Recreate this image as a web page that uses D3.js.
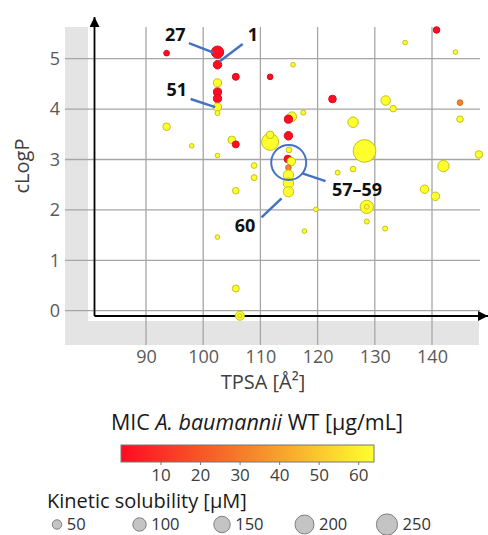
<!DOCTYPE html>
<html>
<head>
<meta charset="utf-8">
<script src="https://cdn.jsdelivr.net/npm/d3@7"></script>
<style>
  body { margin: 0; background: #fff; }
  svg { display: block; font-family: "Open Sans", sans-serif; }
</style>
</head>
<body>
<div id="chart"></div>
<script>
// compounds: TPSA, cLogP, MIC (ug/mL) and kinetic solubility (uM)
var tpsa = [93.6, 102.5, 102.5, 105.7, 111.7, 102.5, 102.5, 102.5, 102.5, 102.5,
  93.6, 98.0, 105.0, 105.7, 102.5, 111.7, 111.7, 108.9, 108.9, 105.7,
  102.5, 105.7, 106.4, 106.4, 140.8, 135.3, 144.1, 115.7, 122.6, 131.9,
  133.2, 144.9, 115.5, 114.9, 117.5, 126.2, 144.9, 114.9, 128.2, 148.2,
  115.0, 114.8, 115.4, 114.9, 114.9, 114.9, 114.9, 142.0, 123.5, 126.2,
  138.7, 140.6, 128.6, 128.6, 119.7, 128.6, 131.8, 117.7];
var clogp = [5.11, 5.13, 4.88, 4.64, 4.64, 4.52, 4.34, 4.21, 4.04, 3.92,
  3.65, 3.27, 3.39, 3.30, 3.08, 3.35, 3.49, 2.88, 2.64, 2.38,
  1.46, 0.44, -0.10, -0.10, 5.57, 5.32, 5.13, 4.88, 4.20, 4.17,
  4.01, 4.13, 3.85, 3.80, 3.93, 3.74, 3.80, 3.47, 3.17, 3.10,
  3.19, 3.01, 2.96, 2.84, 2.69, 2.53, 2.36, 2.87, 2.74, 2.81,
  2.41, 2.27, 2.06, 2.06, 2.01, 1.77, 1.63, 1.58];
var mic = [1, 1, 1, 1, 1, 64, 1, 1, 64, 64,
  64, 64, 64, 1, 64, 64, 64, 64, 64, 64,
  64, 64, 64, 64, 1, 64, 64, 64, 1, 64,
  64, 32, 64, 1, 64, 64, 64, 1, 64, 64,
  64, 1, 64, 32, 64, 64, 64, 64, 64, 64,
  64, 64, 64, 64, 64, 64, 64, 64];
var solubility = [18, 84, 40, 27, 18, 37, 37, 37, 37, 14,
  32, 12, 32, 27, 12, 161, 32, 18, 20, 24,
  12, 27, 45, 10, 24, 12, 12, 12, 32, 50,
  24, 18, 50, 37, 14, 60, 24, 40, 287, 32,
  18, 32, 40, 18, 60, 60, 60, 72, 14, 18,
  40, 40, 98, 12, 12, 14, 14, 12];

var xTicks = [90, 100, 110, 120, 130, 140];
var yTicks = [0, 1, 2, 3, 4, 5];
var micTicks = [10, 20, 30, 40, 50, 60];
var solLegend = [50, 100, 150, 200, 250];

// labelled compounds
var labels = [
  { text: "27", x: 95.1, y: 5.47, from: [97.5, 5.31], to: [101.8, 5.12] },
  { text: "1", x: 108.7, y: 5.47, from: [106.9, 5.29], to: [102.8, 4.94] },
  { text: "51", x: 95.4, y: 4.38, from: [97.8, 4.20], to: [102.1, 4.04] },
  { text: "60", x: 107.3, y: 1.70, from: [110.2, 1.85], to: [113.7, 2.23] },
  { text: "57\u201359", x: 126.9, y: 2.41, from: [117.2, 2.73], to: [121.4, 2.57] }
];

var width = 488, height = 535;
var panel = { left: 65, right: 479, top: 27, bottom: 345 };
var inner = { left: 88, bottom: 321 };

var svg = d3.select("#chart").append("svg")
  .attr("width", width)
  .attr("height", height);

var x = d3.scaleLinear().domain([90, 140]).range([146, 432]);
var y = d3.scaleLinear().domain([0, 5]).range([310.7, 58.7]);
var r = d3.scaleSqrt().domain([0, 250]).range([0, 10.6]);
var color = d3.scaleLinear()
  .domain([0, 32, 64])
  .range(["#ff0a23", "#f5822a", "#ffff2d"]);

// background panel
svg.append("rect")
  .attr("x", panel.left).attr("y", panel.top)
  .attr("width", panel.right - panel.left).attr("height", panel.bottom - panel.top)
  .attr("fill", "#e4e4e4");
svg.append("rect")
  .attr("x", inner.left).attr("y", panel.top)
  .attr("width", panel.right - inner.left).attr("height", inner.bottom - panel.top)
  .attr("fill", "#fff");

// grid
svg.append("g").selectAll("line")
  .data(xTicks).enter().append("line")
  .attr("x1", function(d) { return x(d); })
  .attr("x2", function(d) { return x(d); })
  .attr("y1", panel.top).attr("y2", panel.bottom)
  .attr("stroke", "#a6a6a6").attr("stroke-width", 1.3);
svg.append("g").selectAll("line")
  .data(yTicks).enter().append("line")
  .attr("y1", function(d) { return y(d); })
  .attr("y2", function(d) { return y(d); })
  .attr("x1", panel.left).attr("x2", panel.right + 1)
  .attr("stroke", "#a6a6a6").attr("stroke-width", 1.3);

// tick labels
var xAxis = svg.append("g")
  .attr("transform", "translate(0," + panel.bottom + ")")
  .call(d3.axisBottom(x).tickValues(xTicks).tickSize(0).tickPadding(5));
var yAxis = svg.append("g")
  .attr("transform", "translate(" + panel.left + ",0)")
  .call(d3.axisLeft(y).tickValues(yTicks).tickFormat(d3.format("d"))
    .tickSize(0).tickPadding(5));
[xAxis, yAxis].forEach(function(a) {
  a.select(".domain").remove();
  a.selectAll("text")
    .attr("font-family", "Open Sans")
    .attr("font-size", 18)
    .attr("fill", "#595959");
});

svg.append("text")
  .attr("x", 263).attr("y", 389)
  .attr("text-anchor", "middle")
  .attr("font-size", 20)
  .attr("fill", "#404040")
  .text("TPSA [Å²]");
svg.append("text")
  .attr("transform", "translate(29,166) rotate(-90)")
  .attr("text-anchor", "middle")
  .attr("font-size", 20)
  .attr("fill", "#404040")
  .text("cLogP");

// arrows for axes
var defs = svg.append("defs");
defs.append("marker")
  .attr("id", "arrow")
  .attr("viewBox", "0 0 10 10")
  .attr("refX", 10).attr("refY", 5)
  .attr("markerWidth", 10).attr("markerHeight", 10)
  .attr("markerUnits", "userSpaceOnUse")
  .attr("orient", "auto")
  .append("path")
  .attr("d", "M0,0L10,5L0,10Z")
  .attr("fill", "#000");

var ox = 94.5, oy = 316;
svg.append("path")
  .attr("d", "M" + ox + "," + oy + "L" + ox + ",17")
  .attr("stroke", "#000").attr("stroke-width", 1.8).attr("fill", "none")
  .attr("marker-end", "url(#arrow)");
svg.append("path")
  .attr("d", "M" + ox + "," + oy + "L488," + oy)
  .attr("stroke", "#000").attr("stroke-width", 1.8).attr("fill", "none")
  .attr("marker-end", "url(#arrow)");

// points
var points = d3.range(tpsa.length);
svg.append("g").selectAll("circle")
  .data(points).enter().append("circle")
  .attr("cx", function(i) { return x(tpsa[i]); })
  .attr("cy", function(i) { return y(clogp[i]); })
  .attr("r", function(i) { return r(solubility[i]); })
  .attr("fill", function(i) { return color(mic[i]); })
  .attr("stroke", function(i) {
    return mic[i] > 48 ? "#c2c21a" : d3.color(color(mic[i])).darker(0.5);
  })
  .attr("stroke-width", 1);

// annotations
var blue = "#4472c4";
svg.append("circle")
  .attr("cx", x(114.95)).attr("cy", y(2.94))
  .attr("r", 17.5)
  .attr("fill", "none")
  .attr("stroke", blue).attr("stroke-width", 2);

var ann = svg.append("g");
ann.selectAll("line")
  .data(labels).enter().append("line")
  .attr("x1", function(d) { return x(d.from[0]); })
  .attr("y1", function(d) { return y(d.from[1]); })
  .attr("x2", function(d) { return x(d.to[0]); })
  .attr("y2", function(d) { return y(d.to[1]); })
  .attr("stroke", blue).attr("stroke-width", 2.5);
ann.selectAll("text")
  .data(labels).enter().append("text")
  .attr("x", function(d) { return x(d.x); })
  .attr("y", function(d) { return y(d.y); })
  .attr("dy", "0.36em")
  .attr("text-anchor", "middle")
  .attr("font-size", 18)
  .attr("font-weight", "bold")
  .attr("fill", "#111")
  .text(function(d) { return d.text; });

// colour legend
var cb = { x0: 121, x1: 374, y: 445, h: 17 };
var micScale = d3.scaleLinear().domain([0, 64]).range([cb.x0, cb.x1]);

var title = svg.append("text")
  .attr("x", 257).attr("y", 430)
  .attr("text-anchor", "middle")
  .attr("font-size", 21.5)
  .attr("fill", "#1a1a1a");
title.append("tspan").text("MIC ");
title.append("tspan").attr("font-style", "italic").text("A. baumannii");
title.append("tspan").text(" WT [µg/mL]");

var grad = defs.append("linearGradient").attr("id", "micgrad");
grad.selectAll("stop")
  .data(d3.range(0, 1.01, 0.1)).enter().append("stop")
  .attr("offset", function(t) { return t; })
  .attr("stop-color", function(t) { return color(t * 64); });

svg.append("rect")
  .attr("x", cb.x0).attr("y", cb.y)
  .attr("width", cb.x1 - cb.x0).attr("height", cb.h)
  .attr("fill", "url(#micgrad)")
  .attr("stroke", "#777").attr("stroke-width", 1);

var micAxis = svg.append("g")
  .attr("transform", "translate(0," + (cb.y + cb.h) + ")")
  .call(d3.axisBottom(micScale).tickValues(micTicks).tickSize(3).tickPadding(4));
micAxis.select(".domain").remove();
micAxis.selectAll("line").attr("stroke", "#777");
micAxis.selectAll("text")
  .attr("font-family", "Open Sans")
  .attr("font-size", 17)
  .attr("fill", "#404040");

// size legend
svg.append("text")
  .attr("x", 47).attr("y", 507.5)
  .attr("font-size", 20)
  .attr("fill", "#1a1a1a")
  .text("Kinetic solubility [µM]");

var sx = d3.scalePoint().domain(solLegend).range([57, 387]);
var sl = svg.append("g").selectAll("g")
  .data(solLegend).enter().append("g")
  .attr("transform", function(d) { return "translate(" + sx(d) + ",524.5)"; });
sl.append("circle")
  .attr("r", function(d) { return r(d); })
  .attr("fill", "#c4c4c4")
  .attr("stroke", "#7f7f7f").attr("stroke-width", 1);
sl.append("text")
  .attr("x", function(d) { return r(d) + 5; })
  .attr("dy", "0.36em")
  .attr("font-size", 16.5)
  .attr("fill", "#333")
  .text(function(d) { return d; });
</script>
</body>
</html>
